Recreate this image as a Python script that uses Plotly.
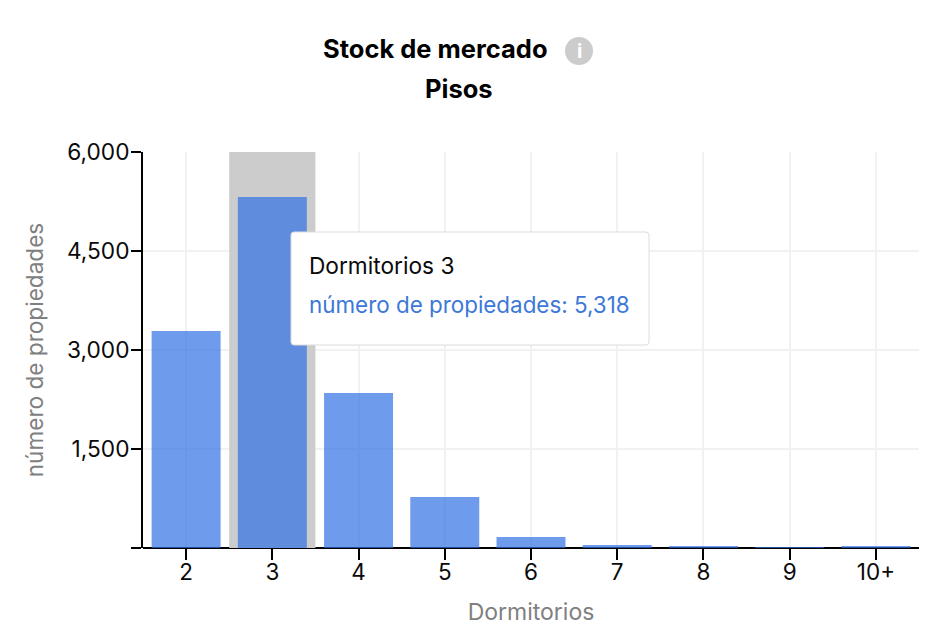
import plotly.graph_objects as go

categories = ["2", "3", "4", "5", "6", "7", "8", "9", "10+"]
values = [3288, 5318, 2348, 773, 167, 45, 20, 8, 20]
y_ticks = [0, 1500, 3000, 4500, 6000]
y_labels = ["", "1,500", "3,000", "4,500", "6,000"]
title_lines = ["Stock de mercado", "Pisos"]
x_title = "Dormitorios"
y_title = "número de propiedades"
tip_title = "Dormitorios 3"
tip_text = "número de propiedades: 5,318"
active_index = 1

W, H = 940, 636
L, R, T, B = 143, 21, 152, 88
FONT = "Inter, Liberation Sans, sans-serif"
INK = "#0a0a0a"
GREY = "#808080"


def px(x):
    return (x - L) / (W - L - R)


def py(y):
    return (H - B - y) / (H - B - T)


def rounded(x0, y0, x1, y1, r):
    a, b, c, d = px(x0), px(x1), py(y0), py(y1)
    rx, ry = r / (W - L - R), r / (H - B - T)
    return (
        f"M {a+rx} {c} L {b-rx} {c} Q {b} {c} {b} {c-ry} L {b} {d+ry} Q {b} {d} {b-rx} {d} "
        f"L {a+rx} {d} Q {a} {d} {a} {d+ry} L {a} {c-ry} Q {a} {c} {a+rx} {c} Z"
    )


fig = go.Figure(
    go.Bar(
        x=categories,
        y=values,
        marker=dict(color="rgb(48,112,226)", opacity=0.7, line_width=0),
        hoverinfo="skip",
    )
)

fig.add_shape(type="rect", xref="x", yref="y", x0=active_index - 0.5, x1=active_index + 0.5,
              y0=y_ticks[0], y1=y_ticks[-1], fillcolor="#cccccc", line_width=0, layer="between")
fig.add_shape(type="path", xref="paper", yref="paper", path=rounded(291, 232, 649, 345, 3),
              fillcolor="#ffffff", line=dict(color="#dcdcdc", width=1), layer="above")
fig.add_shape(type="circle", xref="paper", yref="paper", x0=px(565), x1=px(593), y0=py(65), y1=py(37),
              fillcolor="#cccccc", line_width=0)


def label(x, y, text, size, color, anchor="center", **kw):
    fig.add_annotation(xref="paper", yref="paper", x=px(x), y=py(y), text=text, showarrow=False,
                       xanchor=anchor, yanchor="middle", align=anchor,
                       font=dict(family=FONT, size=size, color=color), **kw)


label(435, 49, f"<b>{title_lines[0]}</b>", 25.5, "#000000")
label(458.5, 89, f"<b>{title_lines[1]}</b>", 25.5, "#000000")
label(579, 51, "<b>i</b>", 20, "#ffffff")
label(307, 265, tip_title, 22.7, INK, anchor="left")
label(307, 304, tip_text, 22.4, "#3d78d8", anchor="left")

fig.update_layout(
    width=W,
    height=H,
    margin=dict(l=L, r=R, t=T, b=B, pad=0),
    paper_bgcolor="#ffffff",
    plot_bgcolor="#ffffff",
    bargap=0.2,
    showlegend=False,
    font=dict(family=FONT, color=INK, size=23),
    xaxis=dict(
        type="category",
        categoryorder="array",
        categoryarray=categories,
        range=[-0.5, 8.5],
        showgrid=True,
        gridcolor="#f1f1f1",
        gridwidth=2,
        showline=False,
        ticks="outside",
        ticklen=11,
        tickwidth=2,
        tickcolor="#000000",
        ticklabelstandoff=-7,
        tickfont=dict(family=FONT, size=22.5, color=INK),
        title=dict(text=x_title, font=dict(family=FONT, size=23, color=GREY), standoff=19),
    ),
    yaxis=dict(
        range=[0, 6000],
        tickvals=y_ticks,
        ticktext=y_labels,
        showgrid=True,
        gridcolor="#f1f1f1",
        gridwidth=2,
        zeroline=True,
        zerolinecolor="#000000",
        zerolinewidth=2,
        showline=True,
        linecolor="#000000",
        linewidth=2,
        ticks="outside",
        ticklen=10,
        tickwidth=2,
        tickcolor="#000000",
        ticklabelstandoff=-3,
        tickfont=dict(family=FONT, size=22.7, color=INK),
        title=dict(text=y_title, font=dict(family=FONT, size=22.6, color=GREY), standoff=17),
    ),
)

fig.write_html("out.html", config={"displayModeBar": False},
               post_script="document.body.style.margin='0';")
